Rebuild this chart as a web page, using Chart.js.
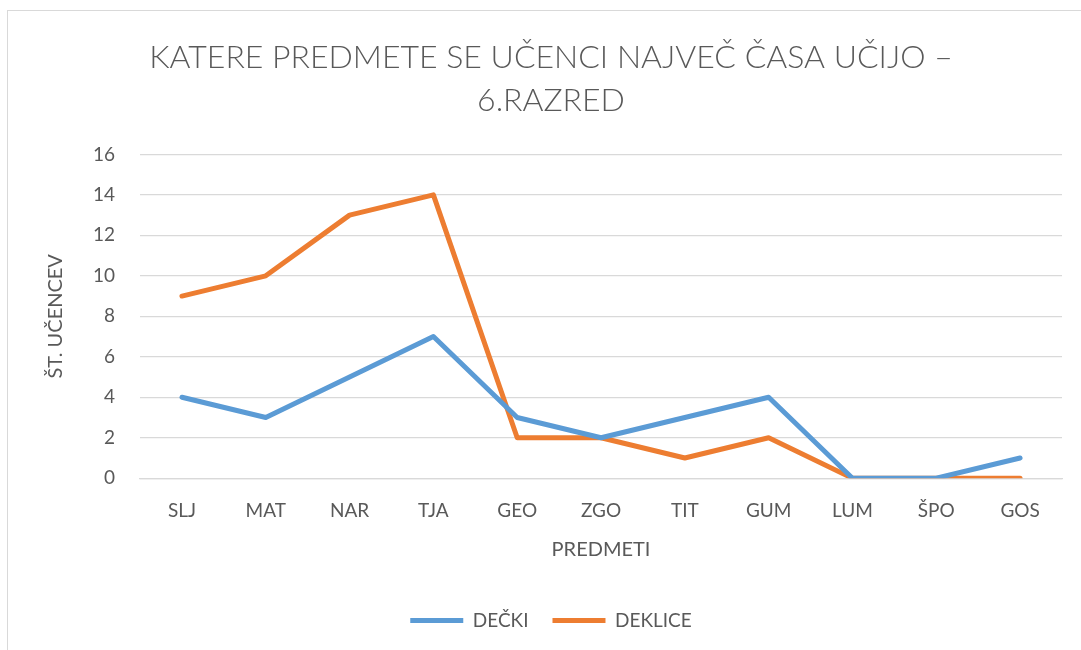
<!DOCTYPE html>
<html>
<head>
<meta charset="utf-8">
<script src="https://cdn.jsdelivr.net/npm/chart.js@4"></script>
<style>
  body { margin: 0; background: #fff; overflow: hidden; }
  #frame { position: absolute; left: 7px; top: 10px; width: 1200px; height: 700px; border: 1px solid #d9d9d9; }
  #wrap { position: absolute; left: 0; top: 0; width: 1100px; height: 650px; }
</style>
</head>
<body>
<div id="frame"></div>
<div id="wrap"><canvas id="chart"></canvas></div>
<script>
const categories = ['SLJ', 'MAT', 'NAR', 'TJA', 'GEO', 'ZGO', 'TIT', 'GUM', 'LUM', 'ŠPO', 'GOS'];
const decki = [4, 3, 5, 7, 3, 2, 3, 4, 0, 0, 1];
const deklice = [9, 10, 13, 14, 2, 2, 1, 2, 0, 0, 0];
const titleLines = ['KATERE PREDMETE SE UČENCI NAJVEČ ČASA UČIJO –', '6.RAZRED'];

const grey = '#595959';
const font = 'Lato, "Open Sans", sans-serif';

const ctx = document.getElementById('chart').getContext('2d');
new Chart(ctx, {
  type: 'line',
  data: {
    labels: categories,
    datasets: [
      { label: 'DEČKI', data: decki, borderColor: '#5b9bd5', backgroundColor: '#5b9bd5',
        borderWidth: 5, pointRadius: 0, tension: 0, borderCapStyle: 'round', borderJoinStyle: 'round' },
      { label: 'DEKLICE', data: deklice, borderColor: '#ed7d31', backgroundColor: '#ed7d31',
        borderWidth: 5, pointRadius: 0, tension: 0, borderCapStyle: 'round', borderJoinStyle: 'round' }
    ]
  },
  options: {
    responsive: true,
    maintainAspectRatio: false,
    animation: false,
    layout: { padding: { left: 40, right: 38, top: 0, bottom: 10 } },
    plugins: {
      title: {
        display: true,
        text: titleLines,
        color: grey,
        font: { family: font, size: 32, weight: 300, lineHeight: 1.35 },
        padding: { top: 36, bottom: 32 }
      },
      legend: {
        position: 'bottom',
        labels: {
          usePointStyle: true,
          pointStyle: 'line',
          pointStyleWidth: 53,
          boxWidth: 53,
          color: grey,
          font: { family: font, size: 19 },
          padding: 24
        }
      },
      tooltip: { enabled: false }
    },
    scales: {
      x: {
        offset: true,
        grid: { display: false, drawTicks: false },
        border: { color: '#d9d9d9', width: 1.25 },
        ticks: { color: grey, font: { family: font, size: 19 }, padding: 21 },
        title: { display: true, text: 'PREDMETI', color: grey, font: { family: font, size: 20 }, padding: { top: -5, bottom: 25 } }
      },
      y: {
        min: 0,
        max: 16,
        ticks: { stepSize: 2, color: grey, font: { family: font, size: 19 }, padding: 25 },
        grid: { color: '#d9d9d9', lineWidth: 1.25, drawTicks: false },
        border: { display: false },
        title: { display: true, text: 'ŠT. UČENCEV', color: grey, font: { family: font, size: 20 }, padding: { bottom: 0 } }
      }
    }
  }
});
</script>
</body>
</html>
